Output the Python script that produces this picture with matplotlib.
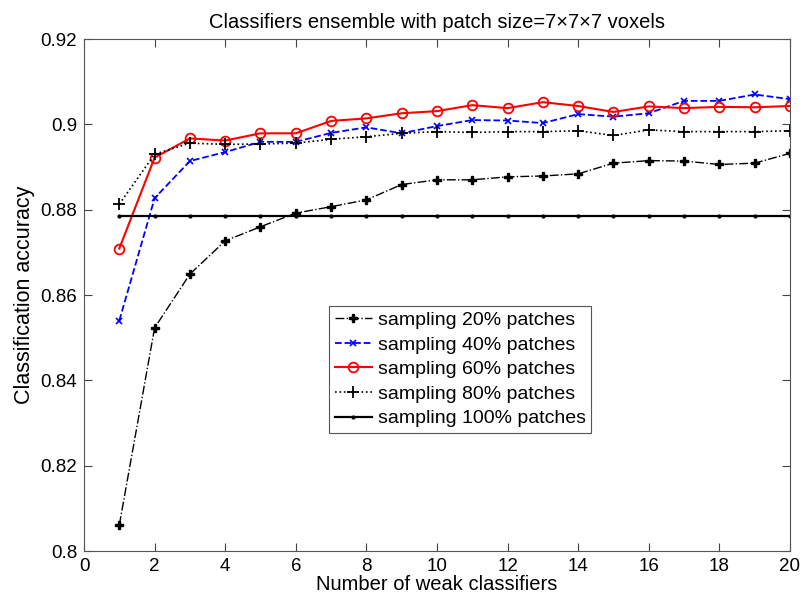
import numpy as np
import matplotlib.pyplot as plt
from matplotlib.ticker import FormatStrFormatter

plt.rcParams['font.family'] = ['Liberation Sans', 'DejaVu Sans']

n_weak = list(range(1, 21))

acc_20 = [0.8061, 0.8523, 0.8649, 0.8727, 0.8760, 0.8792, 0.8807, 0.8823, 0.8859, 0.8870,
          0.8870, 0.8877, 0.8879, 0.8884, 0.8909, 0.8915, 0.8914, 0.8906, 0.8909, 0.8932]
acc_40 = [0.8540, 0.8827, 0.8914, 0.8935, 0.8959, 0.8959, 0.8980, 0.8993, 0.8979, 0.8996,
          0.9010, 0.9009, 0.9003, 0.9024, 0.9018, 0.9026, 0.9055, 0.9055, 0.9070, 0.9059]
acc_60 = [0.8709, 0.8922, 0.8967, 0.8962, 0.8979, 0.8979, 0.9008, 0.9014, 0.9026, 0.9031,
          0.9045, 0.9038, 0.9052, 0.9043, 0.9029, 0.9042, 0.9038, 0.9041, 0.9040, 0.9043]
acc_80 = [0.8813, 0.8930, 0.8956, 0.8953, 0.8954, 0.8956, 0.8965, 0.8971, 0.8979, 0.8983,
          0.8981, 0.8983, 0.8983, 0.8985, 0.8974, 0.8987, 0.8983, 0.8983, 0.8983, 0.8985]
acc_100 = [0.8785] * 20

labels = ['sampling 20% patches', 'sampling 40% patches', 'sampling 60% patches',
          'sampling 80% patches', 'sampling 100% patches']

fig = plt.figure(figsize=(8.04, 6.04), dpi=100)
ax = fig.add_axes([0.1045, 0.0877, 0.878, 0.8477])

ax.plot(n_weak, acc_20, color='black', linestyle='-.', linewidth=1, marker='P',
        markersize=6, label=labels[0])
ax.plot(n_weak, acc_40, color='blue', linestyle='--', linewidth=1.3, marker='x',
        markersize=4, markeredgewidth=1.2, label=labels[1])
ax.plot(n_weak, acc_60, color='red', linestyle='-', linewidth=1.5, marker='o',
        markersize=7, markerfacecolor='none', markeredgewidth=1.3, label=labels[2])
ax.plot(n_weak, acc_80, color='black', linestyle=':', linewidth=1.2, marker='+',
        markersize=9, markeredgewidth=1.3, label=labels[3])
ax.plot(n_weak, acc_100, color='black', linestyle='-', linewidth=1.6, marker='.',
        markersize=4, label=labels[4])

ax.set_xlim(0, 20)
ax.set_ylim(0.8, 0.92)
ax.set_xticks(np.arange(0, 21, 2))
ax.set_yticks(np.arange(0.8, 0.921, 0.02))
ax.yaxis.set_major_formatter(FormatStrFormatter('%g'))
ax.tick_params(direction='in', top=True, right=True, labelsize=13.5, length=6,
               color='#444444', pad=5)
for sp in ax.spines.values():
    sp.set_color('#555555')

ax.set_title('Classifiers ensemble with patch size=7\u00d77\u00d77 voxels', fontsize=14.5, pad=8)
ax.set_xlabel('Number of weak classifiers', fontsize=14.5, labelpad=0)
ax.set_ylabel('Classification accuracy', fontsize=15.5, labelpad=4)

leg = ax.legend(loc='lower left', bbox_to_anchor=(0.347, 0.23), fontsize=14,
                fancybox=False, framealpha=1, edgecolor='#555555', handlelength=1.9,
                handletextpad=0.3, borderpad=0.3, labelspacing=0.36, borderaxespad=0)
leg.get_frame().set_linewidth(0.8)

fig.savefig('out.png', dpi=100)
